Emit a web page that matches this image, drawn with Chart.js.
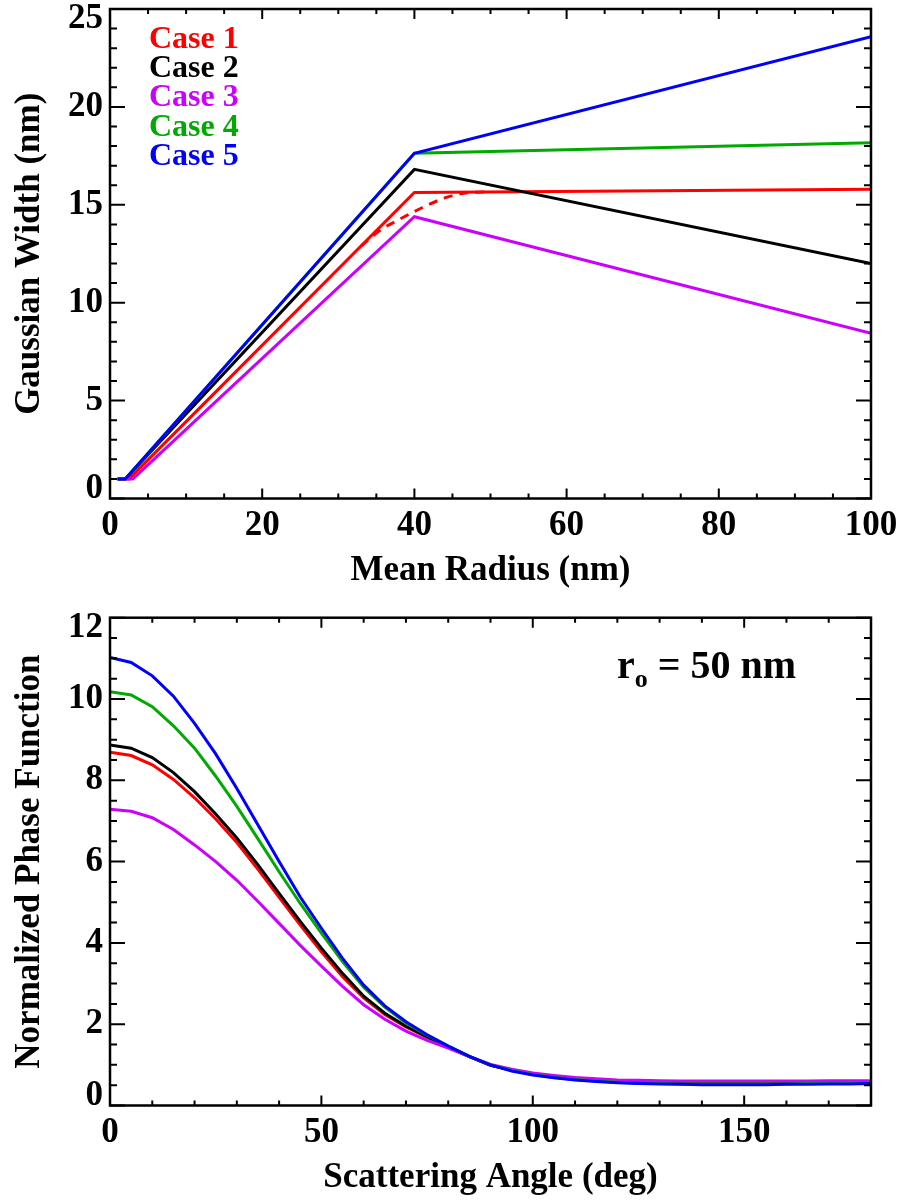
<!DOCTYPE html>
<html>
<head>
<meta charset="utf-8">
<script src="https://cdn.jsdelivr.net/npm/chart.js@4.4.1/dist/chart.umd.min.js"></script>
<style>
  html, body { margin: 0; padding: 0; background: #ffffff; }
  #wrap { width: 903px; height: 1202px; }
  canvas { display: block; }
</style>
</head>
<body>
<div id="wrap">
  <canvas id="widthChart" width="903" height="600"></canvas>
  <canvas id="phaseChart" width="903" height="602"></canvas>
</div>
<script>
// ---------- shared series styling ----------
const caseNames  = ['Case 1', 'Case 2', 'Case 3', 'Case 4', 'Case 5'];
const caseColors = ['#ff0000', '#000000', '#cc00ff', '#00aa00', '#0000ff'];

// ---------- Gaussian width (nm) versus mean radius (nm) ----------
const radiusCase1 = [1, 2.5, 40, 100];
const widthCase1  = [1.0, 1.0, 15.63, 15.79];
const radiusCase2 = [1, 2, 40, 100];
const widthCase2  = [1.0, 1.0, 16.81, 12.0];
const radiusCase3 = [1, 3, 40, 100];
const widthCase3  = [1.0, 1.0, 14.39, 8.44];
const radiusCase4 = [1, 2, 40, 100];
const widthCase4  = [1.0, 1.0, 17.63, 18.17];
const radiusCase5 = [1, 2, 40, 100];
const widthCase5  = [1.0, 1.0, 17.63, 23.58];
// smoothed transition variant of case 1
const radiusCase1Smooth = [33, 35.5, 38, 41, 44, 47, 50];
const widthCase1Smooth  = [12.9, 13.7, 14.25, 14.85, 15.35, 15.62, 15.66];

const radiusTicks = [0, 20, 40, 60, 80, 100];
const widthTicks  = [0, 5, 10, 15, 20, 25];

// ---------- normalized phase function versus scattering angle (deg), r_o = 50 nm ----------
const angleDeg = [0, 5, 10, 15, 20, 25, 30, 35, 40, 45, 50, 55, 60, 65, 70, 75, 80, 85, 90,
                  95, 100, 105, 110, 115, 120, 125, 130, 135, 140, 145, 150, 155, 160, 165, 170, 175, 180];
const phaseCase1 = [8.69, 8.61, 8.38, 8.02, 7.57, 7.05, 6.47, 5.81, 5.12, 4.44, 3.78, 3.17, 2.65, 2.24, 1.93, 1.68, 1.44, 1.20, 0.99,
                    0.87, 0.77, 0.70, 0.65, 0.61, 0.59, 0.57, 0.56, 0.55, 0.55, 0.55, 0.55, 0.55, 0.56, 0.56, 0.56, 0.57, 0.57];
const phaseCase2 = [8.87, 8.79, 8.56, 8.19, 7.72, 7.17, 6.58, 5.92, 5.22, 4.53, 3.87, 3.25, 2.69, 2.27, 1.95, 1.69, 1.45, 1.20, 0.99,
                    0.87, 0.77, 0.70, 0.65, 0.61, 0.58, 0.56, 0.55, 0.54, 0.54, 0.54, 0.54, 0.54, 0.55, 0.55, 0.55, 0.56, 0.56];
const phaseCase3 = [7.29, 7.24, 7.08, 6.79, 6.41, 6.00, 5.54, 5.02, 4.48, 3.94, 3.43, 2.93, 2.48, 2.12, 1.83, 1.60, 1.41, 1.20, 1.01,
                    0.89, 0.80, 0.74, 0.69, 0.66, 0.63, 0.62, 0.61, 0.60, 0.60, 0.60, 0.60, 0.60, 0.60, 0.60, 0.61, 0.61, 0.61];
const phaseCase4 = [10.18, 10.10, 9.81, 9.34, 8.79, 8.10, 7.36, 6.56, 5.75, 4.97, 4.24, 3.54, 2.91, 2.42, 2.03, 1.73, 1.46, 1.21, 1.00,
                    0.86, 0.76, 0.69, 0.64, 0.60, 0.57, 0.55, 0.54, 0.53, 0.53, 0.53, 0.53, 0.53, 0.53, 0.54, 0.54, 0.55, 0.55];
const phaseCase5 = [11.02, 10.90, 10.57, 10.07, 9.40, 8.65, 7.80, 6.90, 6.00, 5.13, 4.36, 3.62, 2.96, 2.45, 2.06, 1.74, 1.46, 1.21, 1.00,
                    0.85, 0.75, 0.68, 0.63, 0.59, 0.56, 0.54, 0.53, 0.52, 0.51, 0.51, 0.51, 0.51, 0.52, 0.52, 0.53, 0.53, 0.54];

const angleTicks = [0, 50, 100, 150];
const phaseTicks = [0, 2, 4, 6, 8, 10, 12];

// ---------- helpers ----------
const SERIF = '"Liberation Serif", "Times New Roman", serif';
const pts = (xs, ys) => xs.map((x, i) => ({ x: x, y: ys[i] }));

function lineSet(label, data, colorIdx, order, extra) {
  return Object.assign({
    label: label,
    data: data,
    borderColor: caseColors[colorIdx],
    backgroundColor: caseColors[colorIdx],
    borderWidth: 3,
    pointRadius: 0,
    tension: 0,
    fill: false,
    order: order
  }, extra || {});
}

// closed frame with inward major/minor ticks on all four sides
const frameTicks = {
  id: 'frameTicks',
  afterDatasetsDraw(chart, args, o) {
    const { ctx, chartArea: a, scales: { x, y } } = chart;
    const steps = (min, max, step) => {
      const out = []; const n = Math.round((max - min) / step);
      for (let i = 0; i <= n; i++) out.push(min + i * step);
      return out;
    };
    const isMajor = (v, m) => Math.abs(v / m - Math.round(v / m)) < 1e-6;
    ctx.save();
    ctx.strokeStyle = '#000';
    ctx.lineWidth = 2;
    ctx.beginPath();
    for (const v of steps(x.min, x.max, o.xMinor)) {
      const px = x.getPixelForValue(v);
      const len = isMajor(v, o.xMajor) ? o.xMajorLen : o.xMinorLen;
      ctx.moveTo(px, a.bottom); ctx.lineTo(px, a.bottom - len);
      ctx.moveTo(px, a.top);    ctx.lineTo(px, a.top + len);
    }
    for (const v of steps(y.min, y.max, o.yMinor)) {
      const py = y.getPixelForValue(v);
      const len = isMajor(v, o.yMajor) ? o.yMajorLen : o.yMinorLen;
      ctx.moveTo(a.left, py);  ctx.lineTo(a.left + len, py);
      ctx.moveTo(a.right, py); ctx.lineTo(a.right - len, py);
    }
    ctx.stroke();
    ctx.lineWidth = 2.5;
    ctx.strokeRect(a.left, a.top, a.right - a.left, a.bottom - a.top);
    ctx.restore();
  }
};

// pull the end labels of the value axis inward so they sit inside the frame height
const endLabelNudge = {
  id: 'endLabelNudge',
  beforeDraw(chart, args, o) {
    const y = chart.scales.y;
    const items = y.getLabelItems();
    if (!items.length || items._nudged) return;
    items[0].options.translation[1] -= o.shift;
    items[items.length - 1].options.translation[1] += o.shift;
    items._nudged = true;
  }
};

const caseLegend = {
  id: 'caseLegend',
  afterDraw(chart, args, o) {
    if (!o.show) return;
    const { ctx, chartArea: a } = chart;
    ctx.save();
    ctx.font = 'bold 32px ' + SERIF;
    ctx.textAlign = 'left';
    ctx.textBaseline = 'alphabetic';
    caseNames.forEach((name, i) => {
      ctx.fillStyle = caseColors[i];
      ctx.fillText(name, a.left + o.dx, a.top + o.dy + i * o.step);
    });
    ctx.restore();
  }
};

const radiusNote = {
  id: 'radiusNote',
  afterDraw(chart, args, o) {
    if (!o.show) return;
    const { ctx, chartArea: a } = chart;
    let x = a.left + o.dx;
    const base = a.top + o.dy;
    ctx.save();
    ctx.fillStyle = '#000';
    ctx.textAlign = 'left';
    ctx.textBaseline = 'alphabetic';
    ctx.font = 'bold 40px ' + SERIF;
    ctx.fillText('r', x, base);
    x += ctx.measureText('r').width;
    ctx.font = 'bold 26px ' + SERIF;
    ctx.fillText('o', x, base + 9);
    x += ctx.measureText('o').width;
    ctx.font = 'bold 40px ' + SERIF;
    ctx.fillText(' = 50 nm', x, base);
    ctx.restore();
  }
};

Chart.register(frameTicks, endLabelNudge, caseLegend, radiusNote);

const tickFont  = { family: SERIF, size: 35, weight: 'bold', lineHeight: 1 };
const titleFont = { family: SERIF, size: 35, weight: 'bold', lineHeight: 1 };

function axisX(min, max, ticks, title, height, titlePad, labelPad) {
  return {
    type: 'linear', min: min, max: max,
    grid: { display: false, drawTicks: false },
    border: { display: false },
    afterBuildTicks: s => { s.ticks = ticks.map(v => ({ value: v })); },
    ticks: { font: tickFont, color: '#000', padding: labelPad, maxRotation: 0, autoSkip: false },
    title: { display: true, text: title, font: titleFont, color: '#000', padding: { top: 0, bottom: titlePad } },
    afterFit: s => { s.height = height; s.paddingLeft = 0; s.paddingRight = 0; }
  };
}
function axisY(min, max, ticks, title, titlePad) {
  return {
    type: 'linear', min: min, max: max,
    grid: { display: false, drawTicks: false },
    border: { display: false },
    afterBuildTicks: s => { s.ticks = ticks.map(v => ({ value: v })); },
    ticks: { font: tickFont, color: '#000', padding: 7, autoSkip: false },
    title: { display: true, text: title, font: titleFont, color: '#000', padding: { top: titlePad, bottom: 0 } },
    afterFit: s => { s.width = 110; s.paddingTop = 0; s.paddingBottom = 0; }
  };
}

const baseOptions = (extra) => Object.assign({
  responsive: false,
  animation: false,
  devicePixelRatio: 1,
  events: [],
  plugins: { legend: { display: false }, tooltip: { enabled: false } }
}, extra);

// ---------- upper panel ----------
new Chart(document.getElementById('widthChart'), {
  type: 'line',
  data: {
    datasets: [
      lineSet(caseNames[0], pts(radiusCase1, widthCase1), 0, 4),
      lineSet(caseNames[1], pts(radiusCase2, widthCase2), 1, 3),
      lineSet(caseNames[2], pts(radiusCase3, widthCase3), 2, 2),
      lineSet(caseNames[3], pts(radiusCase4, widthCase4), 3, 1),
      lineSet(caseNames[4], pts(radiusCase5, widthCase5), 4, 0),
      lineSet(caseNames[0] + ' (smooth)', pts(radiusCase1Smooth, widthCase1Smooth), 0, 5,
              { borderDash: [9, 7], tension: 0.4, cubicInterpolationMode: 'monotone' })
    ]
  },
  options: baseOptions({
    layout: { padding: { left: 0, right: 32, top: 9, bottom: 0 } },
    scales: {
      x: axisX(0, 100, radiusTicks, 'Mean Radius (nm)', 101.5, 12, 10),
      y: axisY(0, 25, widthTicks, 'Gaussian Width (nm)', 12)
    },
    plugins: {
      legend: { display: false }, tooltip: { enabled: false },
      frameTicks: { xMinor: 5, xMajor: 20, xMajorLen: 10, xMinorLen: 5, yMinor: 1, yMajor: 5, yMajorLen: 15, yMinorLen: 7 },
      endLabelNudge: { shift: 10 },
      caseLegend: { show: true, dx: 39, dy: 39, step: 29.2 },
      radiusNote: { show: false }
    }
  })
});

// ---------- lower panel ----------
new Chart(document.getElementById('phaseChart'), {
  type: 'line',
  data: {
    datasets: [
      lineSet(caseNames[0], pts(angleDeg, phaseCase1), 0, 4),
      lineSet(caseNames[1], pts(angleDeg, phaseCase2), 1, 3),
      lineSet(caseNames[2], pts(angleDeg, phaseCase3), 2, 2),
      lineSet(caseNames[3], pts(angleDeg, phaseCase4), 3, 1),
      lineSet(caseNames[4], pts(angleDeg, phaseCase5), 4, 0)
    ]
  },
  options: baseOptions({
    layout: { padding: { left: 0, right: 32, top: 17.7, bottom: 0 } },
    scales: {
      x: axisX(0, 180, angleTicks, 'Scattering Angle (deg)', 96.5, 7, 10),
      y: axisY(0, 12, phaseTicks, 'Normalized Phase Function', 12)
    },
    plugins: {
      legend: { display: false }, tooltip: { enabled: false },
      frameTicks: { xMinor: 10, xMajor: 50, xMajorLen: 10, xMinorLen: 5, yMinor: 0.5, yMajor: 2, yMajorLen: 15, yMinorLen: 7 },
      endLabelNudge: { shift: 10 },
      caseLegend: { show: false },
      radiusNote: { show: true, dx: 507, dy: 60 }
    }
  })
});
</script>
</body>
</html>
